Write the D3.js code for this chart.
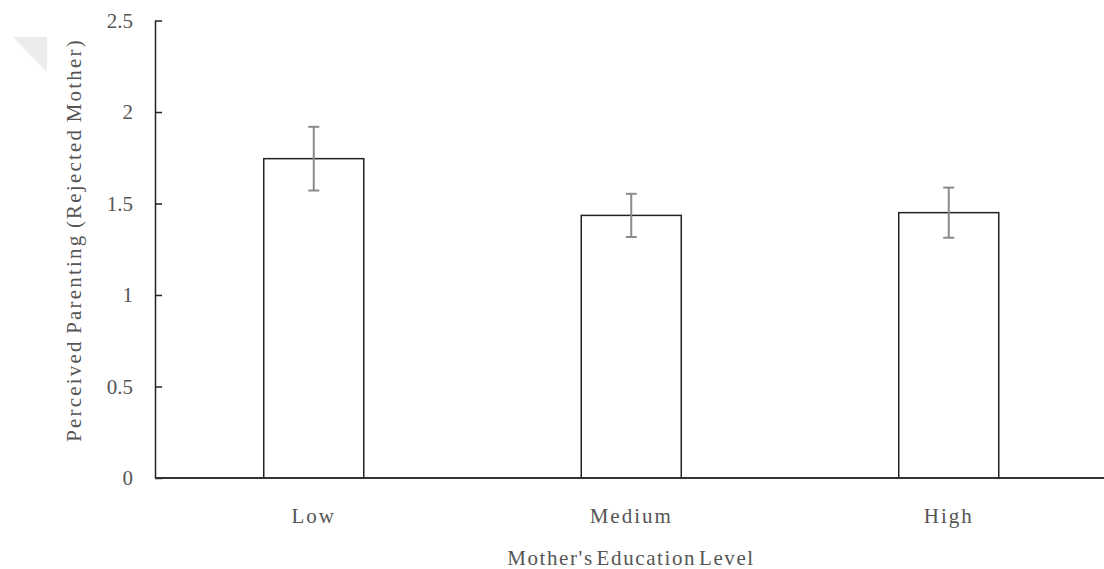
<!DOCTYPE html>
<html>
<head>
<meta charset="utf-8">
<script src="https://cdn.jsdelivr.net/npm/d3@7/dist/d3.min.js"></script>
<style>
  html, body { margin: 0; padding: 0; background: #fff; }
  svg { display: block; }
  text { font-family: "Liberation Serif", "Times New Roman", serif; fill: #555; }
</style>
</head>
<body>
<svg id="chart" width="1104" height="569"></svg>
<script>
// Education level groups and mean rejection scores with error bar half-widths
const categories = ["Low", "Medium", "High"];
const means = [1.745, 1.435, 1.450];
const errors = [0.174, 0.118, 0.137];
const yTicks = [0, 0.5, 1, 1.5, 2, 2.5];
const yTickLabels = ["0", "0.5", "1", "1.5", "2", "2.5"];

const svg = d3.select("#chart");

// faint corner mark
svg.append("polygon")
  .attr("points", "13,37 47,37 47,72")
  .attr("fill", "#ececec");

const x0 = 155, x1 = 1107.5, yTop = 20.5, yBottom = 478;

const x = d3.scaleBand()
  .domain(categories)
  .range([x0, x1])
  .paddingInner(0.685)
  .paddingOuter(0.3425);

const y = d3.scaleLinear()
  .domain([0, 2.5])
  .range([yBottom, yTop]);

// Bars
svg.append("g").selectAll("rect")
  .data(categories)
  .join("rect")
  .attr("x", d => x(d))
  .attr("y", (d, i) => y(means[i]))
  .attr("width", x.bandwidth())
  .attr("height", (d, i) => y(0) - y(means[i]))
  .attr("fill", "#fff")
  .attr("stroke", "#222")
  .attr("stroke-width", 1.5);

// Error bars
const eb = svg.append("g").attr("stroke", "#8a8a8a").attr("stroke-width", 2);
categories.forEach((c, i) => {
  const cx = x(c) + x.bandwidth() / 2;
  const hi = y(means[i] + errors[i]);
  const lo = y(means[i] - errors[i]);
  eb.append("line").attr("x1", cx).attr("x2", cx).attr("y1", hi).attr("y2", lo);
  eb.append("line").attr("x1", cx - 5.5).attr("x2", cx + 5.5).attr("y1", hi).attr("y2", hi);
  eb.append("line").attr("x1", cx - 5.5).attr("x2", cx + 5.5).attr("y1", lo).attr("y2", lo);
});

// Y axis with inward ticks
const yAxis = d3.axisRight(y)
  .tickValues(yTicks)
  .tickFormat((d, i) => yTickLabels[i])
  .tickSize(7)
  .tickSizeOuter(0);
const gy = svg.append("g").attr("transform", `translate(${x0},0)`).call(yAxis);
gy.select(".domain").attr("stroke", "#222").attr("stroke-width", 1.5);
gy.selectAll(".tick line").attr("stroke", "#222").attr("stroke-width", 1.5);
gy.selectAll(".tick text")
  .attr("x", -22)
  .attr("text-anchor", "end")
  .attr("font-size", 21)
  .attr("font-family", "Liberation Serif, serif")
  .attr("fill", "#555");

// X axis line and category labels
const xAxis = d3.axisBottom(x).tickSize(0).tickSizeOuter(0).tickPadding(30);
const gx = svg.append("g").attr("transform", `translate(0,${yBottom})`).call(xAxis);
gx.select(".domain").attr("stroke", "#333").attr("stroke-width", 2).attr("d", `M${x0},0H1104`);
gx.selectAll(".tick text")
  .attr("font-size", 21)
  .attr("font-family", "Liberation Serif, serif")
  .attr("letter-spacing", 2)
  .attr("fill", "#555");

// Axis titles
svg.append("text")
  .attr("x", 631)
  .attr("y", 565)
  .attr("text-anchor", "middle")
  .attr("font-size", 21)
  .attr("letter-spacing", 1.6)
  .attr("word-spacing", -4)
  .text("Mother's Education Level");

svg.append("text")
  .attr("transform", "translate(81,240) rotate(-90)")
  .attr("text-anchor", "middle")
  .attr("font-size", 21)
  .attr("letter-spacing", 2.2)
  .attr("word-spacing", -2)
  .text("Perceived Parenting (Rejected Mother)");
</script>
</body>
</html>
